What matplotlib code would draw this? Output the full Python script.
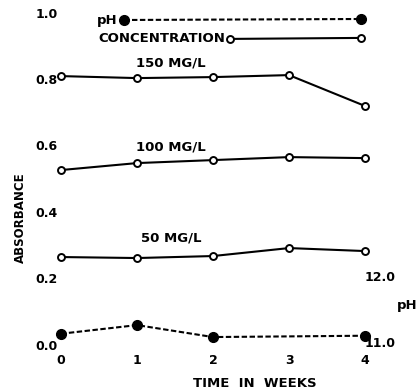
import matplotlib
matplotlib.use("Agg")
import matplotlib.pyplot as plt

# Time axis (weeks)
weeks = [0, 1, 2, 3, 4]

# Absorbance for each concentration
abs_150 = [0.816, 0.810, 0.813, 0.819, 0.726]
abs_100 = [0.533, 0.554, 0.563, 0.572, 0.569]
abs_50 = [0.271, 0.268, 0.274, 0.298, 0.289]

# pH readings (no reading at week 3)
ph_weeks = [0, 1, 2, 4]
ph_values = [11.20, 11.33, 11.15, 11.17]

# Tick labels
y_ticks = [0.0, 0.2, 0.4, 0.6, 0.8, 1.0]
y_tick_labels = ["0.0", "0.2", "0.4", "0.6", "0.8", "1.0"]
x_tick_labels = ["0", "1", "2", "3", "4"]
ph_ticks = [11.0, 12.0]
ph_tick_labels = ["11.0", "12.0"]


def ph_to_abs(ph):
    # right-hand pH scale: 11.0 at 0.0, 12.0 at 0.2
    return (ph - 11.0) * 0.2


FONT = dict(family="DejaVu Sans", weight="bold", color="black")

fig = plt.figure(figsize=(4.19, 3.92), dpi=100)
ax = fig.add_axes([0, 0, 1, 1])
ax.set_xlim(-0.8026, 4.7105)
ax.set_ylim(-0.1355, 1.0452)
ax.axis("off")

line_kw = dict(color="black", lw=1.5, marker="o", markersize=5,
               markerfacecolor="white", markeredgecolor="black",
               markeredgewidth=1.4)
dash_kw = dict(color="black", lw=1.5, dashes=(2.6, 1.2), marker="o",
               markersize=7, markerfacecolor="black")

ax.plot(weeks, abs_150, **line_kw)
ax.plot(weeks, abs_100, **line_kw)
ax.plot(weeks, abs_50, **line_kw)

ph_abs = [ph_to_abs(p) for p in ph_values]
ax.plot(ph_weeks, ph_abs, **dash_kw)

# Key lines at the top
ax.plot([0.83, 3.947], [0.985, 0.988], **dash_kw)
ax.plot([2.224, 3.947], [0.928, 0.931], **line_kw)
ax.text(0.74, 0.983, "pH", ha="right", va="center", fontsize=9.5, **FONT)
ax.text(2.16, 0.928, "CONCENTRATION", ha="right", va="center", fontsize=9.5, **FONT)

# Series labels
ax.text(1.45, 0.855, "150 MG/L", ha="center", va="center", fontsize=9.5, **FONT)
ax.text(1.45, 0.603, "100 MG/L", ha="center", va="center", fontsize=9.5, **FONT)
ax.text(1.45, 0.328, "50 MG/L", ha="center", va="center", fontsize=9.5, **FONT)

# Left tick labels
for v, lab in zip(y_ticks, y_tick_labels):
    ax.text(-0.19, v + 0.003, lab, ha="center", va="center", fontsize=9, **FONT)

# Bottom tick labels
for w, lab in zip(weeks, x_tick_labels):
    ax.text(w, -0.04, lab, ha="center", va="center", fontsize=9, **FONT)

# Right pH tick labels
for p, lab in zip(ph_ticks, ph_tick_labels):
    ax.text(4.2, ph_to_abs(p) + 0.01, lab, ha="center", va="center", fontsize=9, **FONT)
ax.text(4.69, 0.126, "pH", ha="right", va="center", fontsize=9.5, **FONT)

# Axis titles
ax.text(-0.54, 0.39, "ABSORBANCE", ha="center", va="center", rotation=90,
        fontsize=8.5, **FONT)
ax.text(2.55, -0.11, "TIME  IN  WEEKS", ha="center", va="center", fontsize=9.5, **FONT)

fig.savefig("out.png", dpi=100)
